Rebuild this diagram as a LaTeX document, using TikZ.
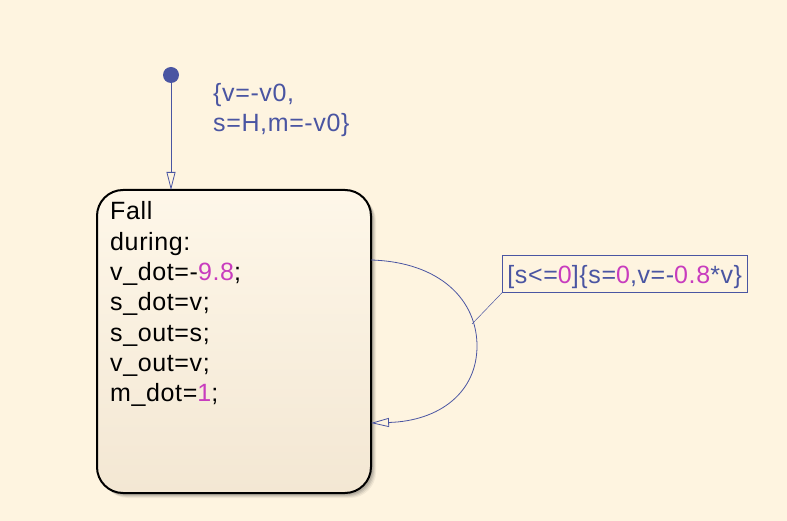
\documentclass[tikz,border=0pt]{standalone}
\usepackage{fontspec}
\newfontfamily\lab{Liberation Sans}[LetterSpace=2.5]
\usetikzlibrary{arrows.meta,calc}
\definecolor{bgc}{HTML}{FEF4E0}
\definecolor{trc}{HTML}{4A55A2}
\definecolor{mag}{HTML}{C83CBE}
\definecolor{boxtop}{HTML}{FEF7E9}
\definecolor{boxbot}{HTML}{F3E7D3}
\tikzset{
  txt/.style={anchor=base west, inner sep=0pt, font=\lab\fontsize{25}{28}\selectfont},
  trans/.style={draw=trc, line width=0.8pt, -{Triangle[open, length=18pt, width=9pt, line width=0.8pt]}},
  statebox/.style={draw=black, line width=2pt, rounded corners=26pt, top color=boxtop, bottom color=boxbot},
}
\begin{document}
\begin{tikzpicture}[x=1pt,y=-1pt]
\fill[bgc] (0,0) rectangle (787,521);
\useasboundingbox (0,0) rectangle (787,521);
% shadow
\foreach \o/\a in {5/0.05,4/0.07,3/0.09,2/0.1}
  \fill[black,opacity=\a,rounded corners=26pt] (97+\o,190+\o) rectangle (371+\o,493+\o);
% state
\node[statebox, minimum width=274pt, minimum height=303pt, inner sep=0pt] (fall) at (234,341.5) {};
\node[txt] (l1) at (110,220) {Fall};
\node[txt] (l2) at (110,250.3) {during:};
\node[txt] (l3) at (110,280.6) {v\_dot=-\textcolor{mag}{9.8};};
\node[txt] (l4) at (110,310.9) {s\_dot=v;};
\node[txt] (l5) at (110,341.2) {s\_out=s;};
\node[txt] (l6) at (110,371.5) {v\_out=v;};
\node[txt] (l7) at (110,401.8) {m\_dot=\textcolor{mag}{1};};
% initial transition
\node[circle, fill=trc, minimum size=16pt, inner sep=0pt] (init) at (171,75) {};
\coordinate (itop) at (171,190);
\draw[trans] (init) -- (itop);
\node[txt, text=trc] (i1) at (213,101.7) {\{v=-v0,};
\node[txt, text=trc] (i2) at (213,131.7) {s=H,m=-v0\}};
% self loop
\coordinate (la) at (371,260);
\coordinate (lb) at (371,423);
\draw[trans] (la) .. controls (440,262) and (477,300) .. (477,346) .. controls (477,392) and (440,421) .. (lb);
\node[anchor=north west, draw=trc, line width=0.8pt, inner xsep=5pt, inner ysep=0pt,
      text height=27.7pt, text depth=9.3pt, text=trc,
      font=\lab\fontsize{25}{28}\selectfont] (lbl) at (502,255)
  {[s<=\textcolor{mag}{0}]\{s=\textcolor{mag}{0},v=-\textcolor{mag}{0.8}*v\}};
\coordinate (lp) at (472,324);
\draw[trc, line width=0.5pt] (lbl.south west) -- (lp);
\end{tikzpicture}
\end{document}
